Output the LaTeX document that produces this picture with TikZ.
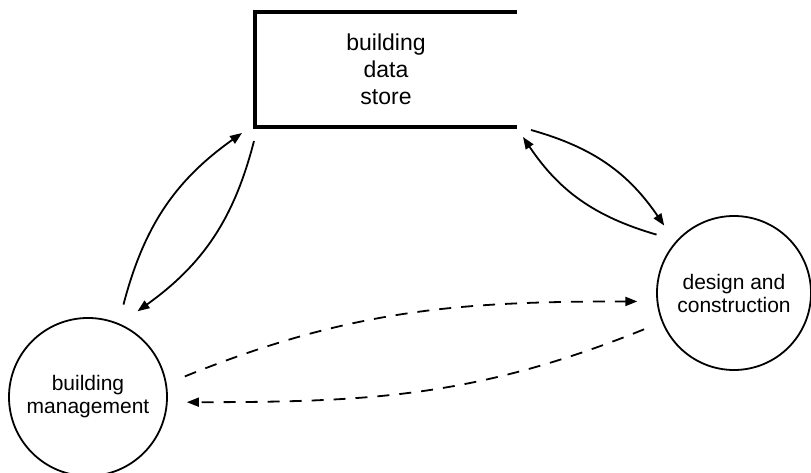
\documentclass[tikz,border=0pt]{standalone}
\usepackage{fontspec}
\setmainfont{Liberation Sans}
\usetikzlibrary{arrows.meta,positioning}

\begin{document}
\begin{tikzpicture}[x=1pt,y=1pt,
        proc/.style={circle,draw,line width=1.8pt,minimum size=154pt,outer sep=20pt,
            align=center,font=\fontsize{21}{23}\selectfont},
        arrow/.style={line width=1.8pt,-{Triangle[length=12pt,width=9pt]}},
        flow/.style={arrow,bend left=20},
        dflow/.style={arrow,dash pattern=on 12pt off 10pt}]
        \useasboundingbox (0,0) rectangle (811,473);
        % data store: open on the right
        \node[minimum width=262pt,minimum height=115pt,inner sep=0pt,outer sep=0pt,
            align=center,font=\fontsize{23}{27}\selectfont] (store) at (386,403.5) {building\\data\\store};
        \draw[line width=4pt] (store.north east) -- (store.north west) -- (store.south west) -- (store.south east);
        % processes
        \node[proc,minimum size=158pt] (bm) at (88,76) {building\\management};
        \node[proc] (dc) at (734,180) {design and\\construction};
        % flows
        \draw[flow] (bm.69) to ([shift={(-13,-6)}]store.south west);
        \draw[flow] ([shift={(-1,-14)}]store.south west) to (bm.60);
        \draw[flow] ([shift={(14,-3)}]store.south east) to (dc.136);
        \draw[flow] (dc.143) to ([shift={(6,-10)}]store.south east);
        \draw[dflow] (bm.12) to[out=22,in=180] (dc.185);
        \draw[dflow] (dc.202) to[out=202,in=0] (bm.-3);
    \end{tikzpicture}
\end{document}
